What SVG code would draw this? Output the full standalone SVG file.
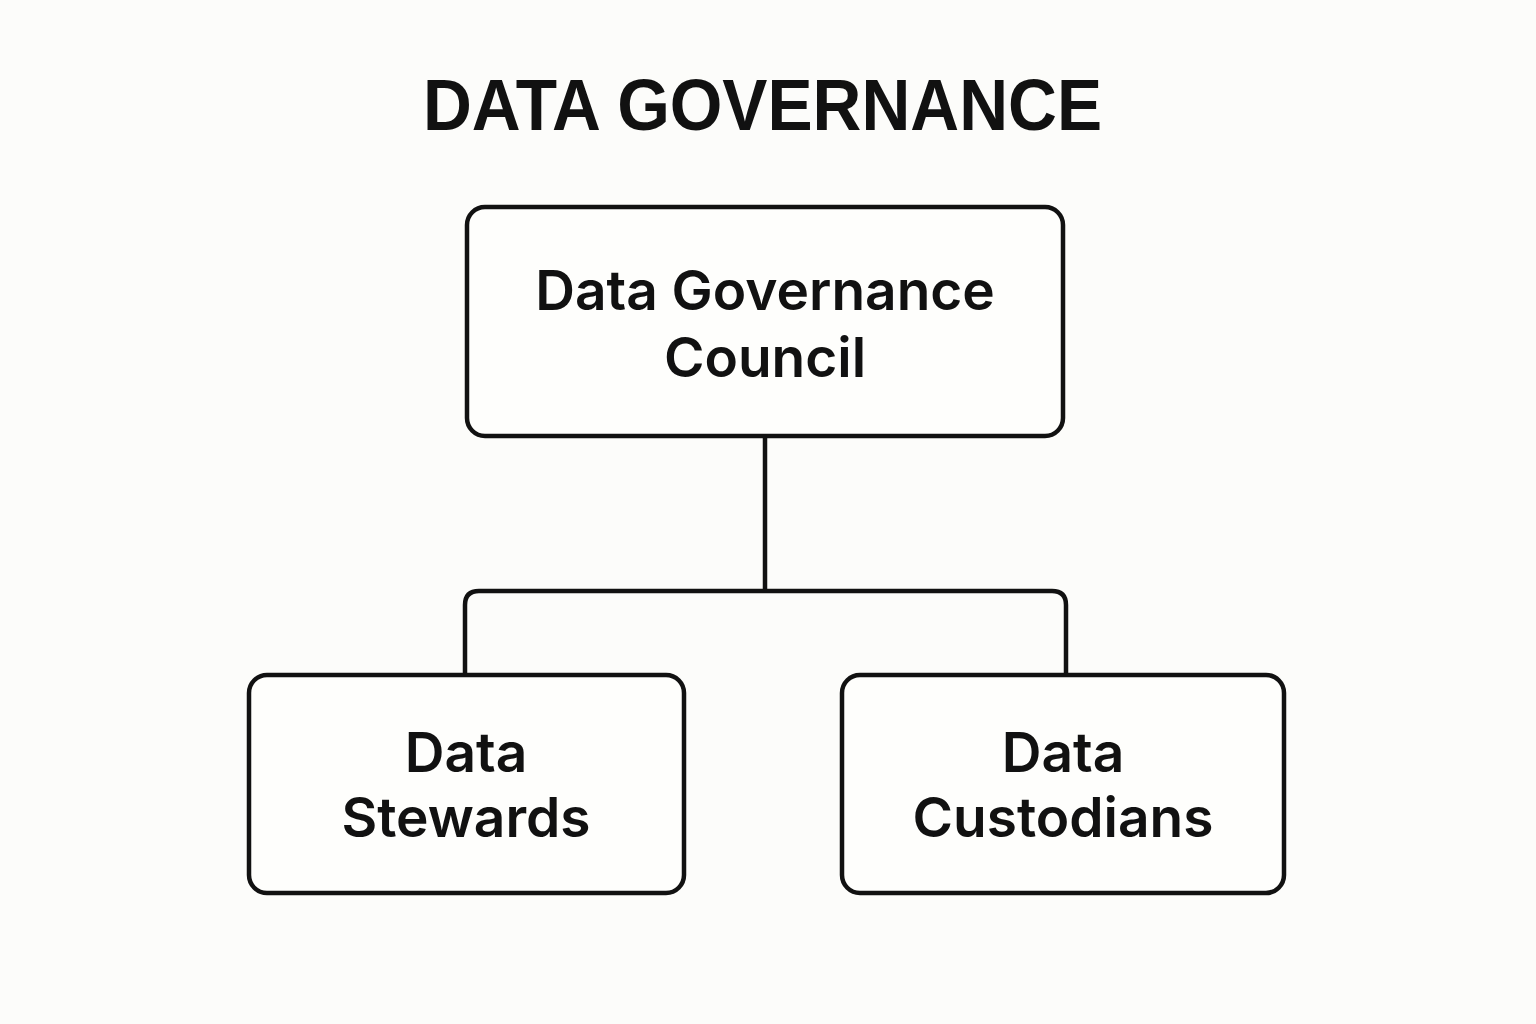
<svg xmlns="http://www.w3.org/2000/svg" width="1536" height="1024" viewBox="0 0 1536 1024">
<style>
.box{fill:#fefefc;stroke:#111;stroke-width:4.5}
.conn{fill:none;stroke:#111;stroke-width:4.5}
.lbl{font-family:Inter,"Liberation Sans",sans-serif;font-weight:600;font-size:55px;fill:#111;text-anchor:middle}
.title{font-family:"Liberation Sans",Arial,sans-serif;font-weight:700;font-size:72px;fill:#111}
</style>
<rect width="1536" height="1024" fill="#fcfcfa"/>
<text class="title" x="423" y="130" textLength="679" lengthAdjust="spacingAndGlyphs">DATA GOVERNANCE</text>
<g id="connectors">
<path class="conn" d="M765 436 V591"/>
<path class="conn" d="M465 675 V605 Q465 591 479 591 H1052 Q1066 591 1066 605 V675"/>
</g>
<g id="council">
<rect class="box" x="467" y="207" width="596" height="229" rx="18"/>
<text class="lbl" x="765" y="310">Data Governance</text>
<text class="lbl" x="765" y="377">Council</text>
</g>
<g id="stewards">
<rect class="box" x="249" y="675" width="435" height="218" rx="18"/>
<text class="lbl" x="466" y="772">Data</text>
<text class="lbl" x="466" y="837">Stewards</text>
</g>
<g id="custodians">
<rect class="box" x="842" y="675" width="442" height="218" rx="18"/>
<text class="lbl" x="1063" y="772">Data</text>
<text class="lbl" x="1063" y="837">Custodians</text>
</g>
</svg>
